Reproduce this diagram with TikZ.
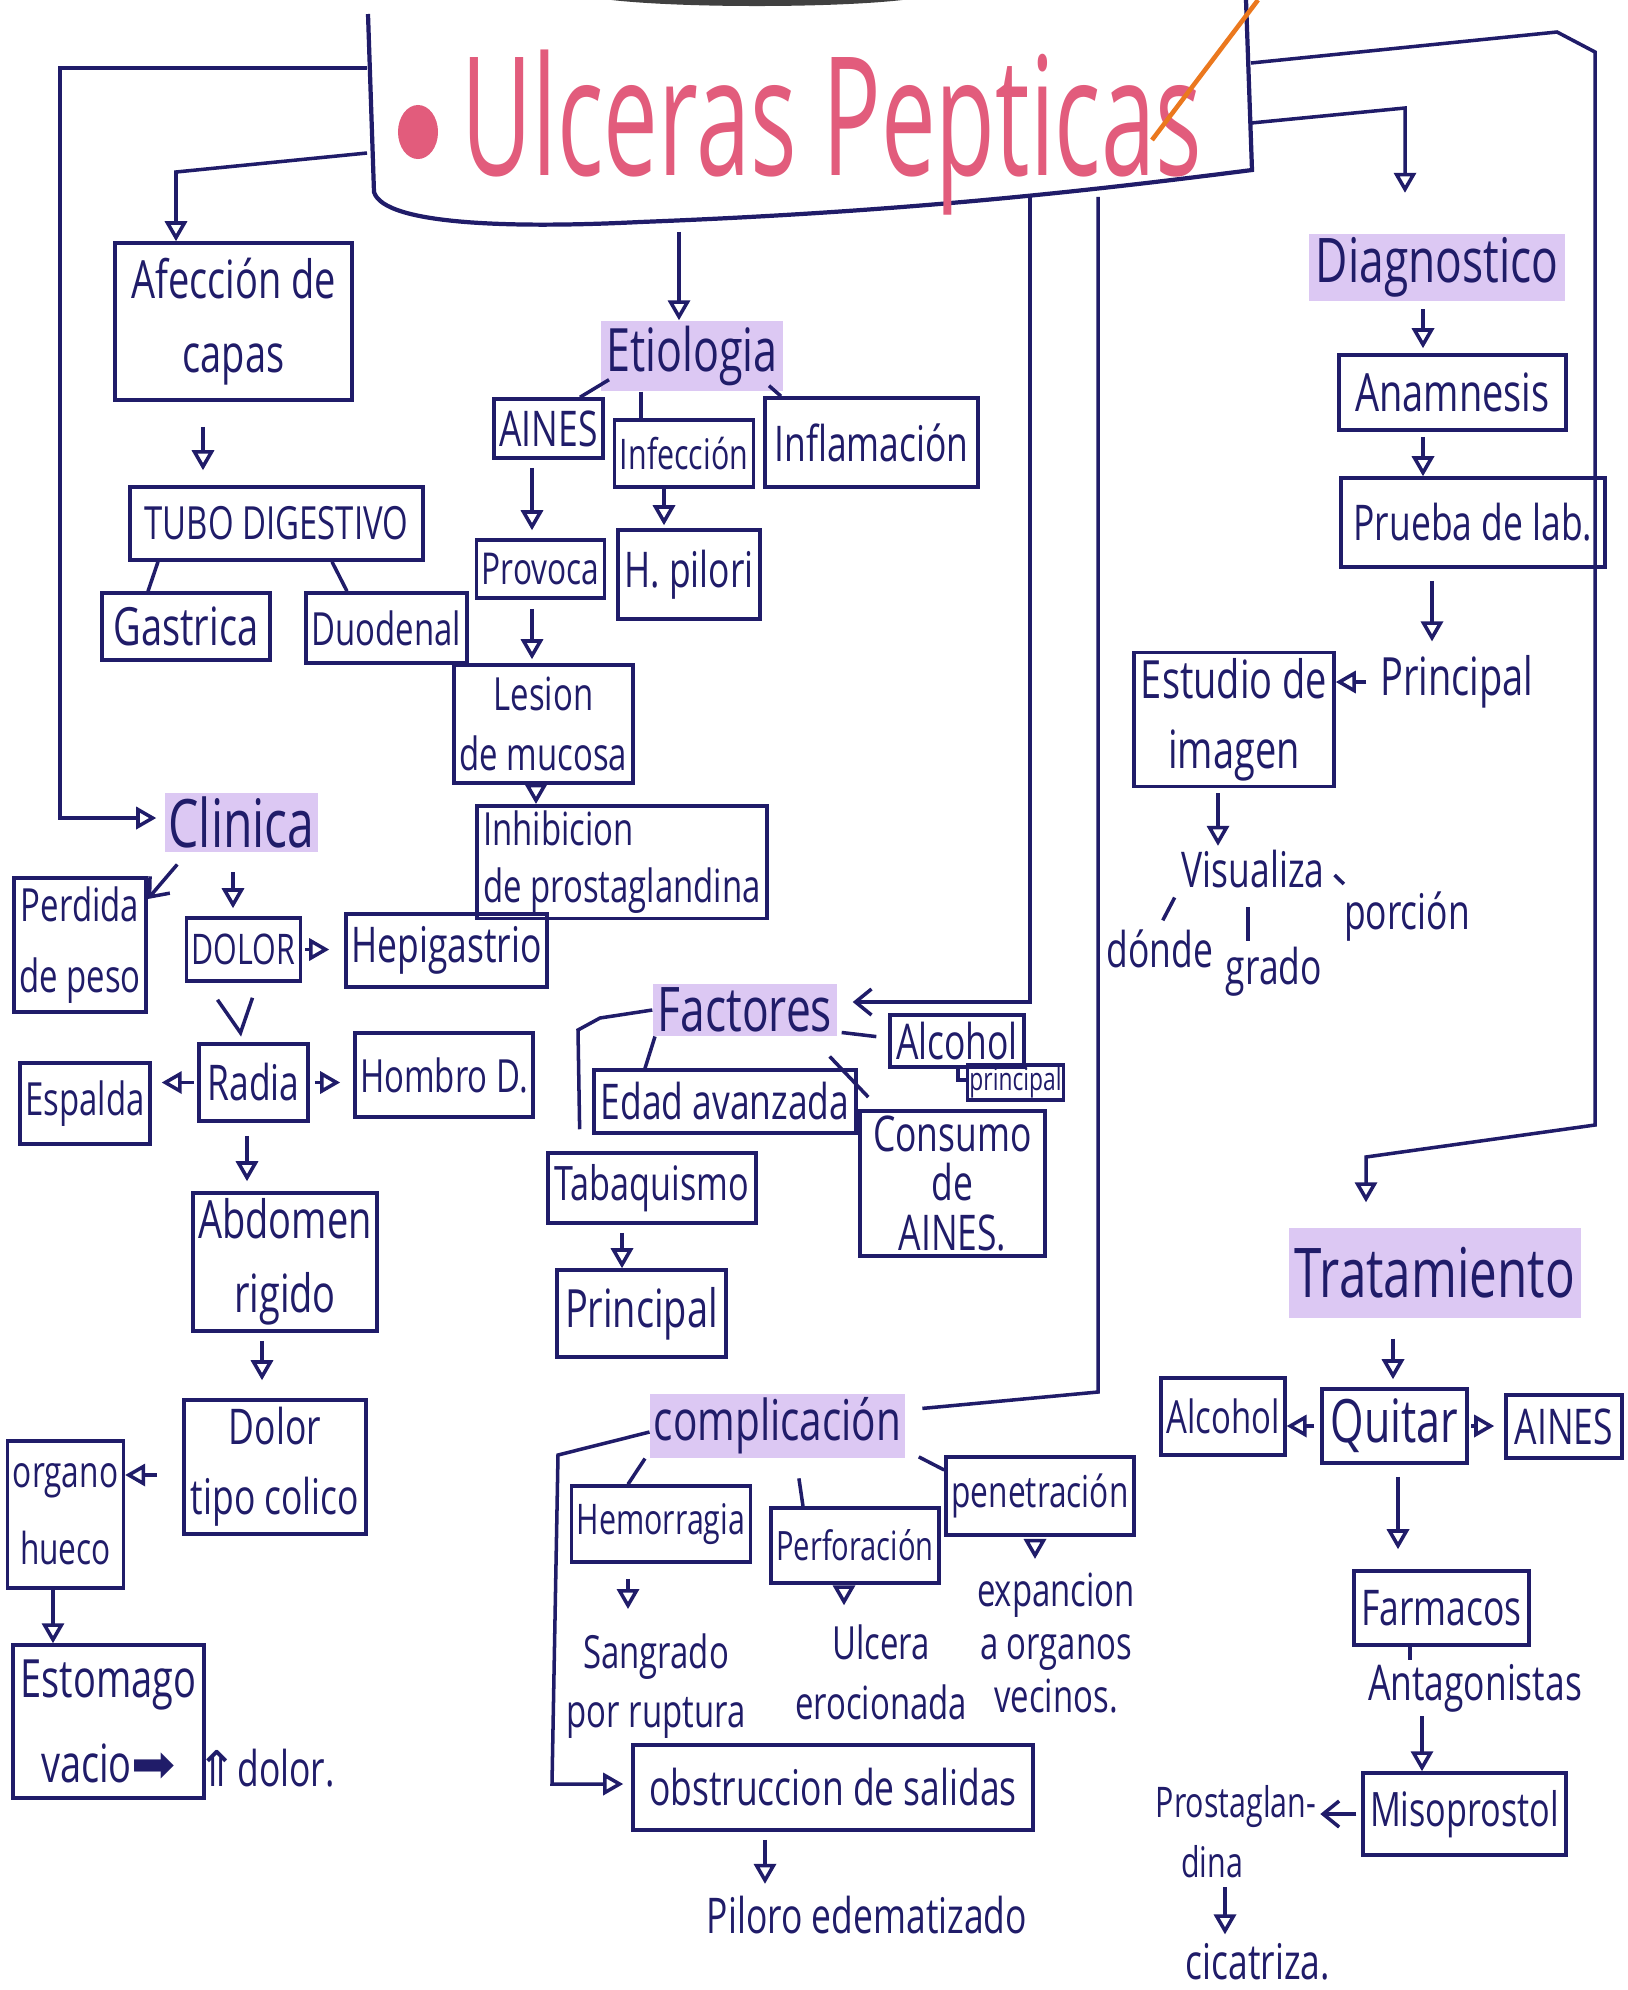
\documentclass[tikz,border=0pt]{standalone}
\usepackage{fontspec}
\setmainfont{Open Sans}[FakeStretch=0.72]
\newfontfamily\titlefont{Open Sans}[FakeStretch=0.59]
\newfontfamily\symfont{DejaVu Sans}
\usetikzlibrary{arrows.meta,calc}
\definecolor{ink}{RGB}{32,28,105}
\definecolor{hlc}{RGB}{220,200,243}
\definecolor{pinkc}{RGB}{226,92,124}
\definecolor{orangec}{RGB}{235,120,30}
\tikzset{
  f/.style 2 args={font=\fontsize{#1}{#2}\selectfont},
  box/.style={draw=ink, line width=1pt, inner sep=1.5pt, align=center, text=ink, f={14}{19}},
  lbl/.style={inner sep=1pt, align=center, text=ink, f={14}{19}},
  hl/.style={fill=hlc, inner sep=1pt, align=center, text=ink, f={17}{20}},
  arr/.style={draw=ink, line width=1pt, -{Triangle[open, length=2mm, width=2.2mm]}},
  arrV/.style={draw=ink, line width=1pt, -{Straight Barb[length=1.6mm, width=2.6mm]}},
  ln/.style={draw=ink, line width=1pt},
}
\newcommand{\mybox}[7][]{%
  \node[box,minimum width={(#5-#3)*0.01cm},minimum height={(#6-#4)*0.01cm},#1] (#2) at ({(#3+#5)/2},{(#4+#6)/2}) {#7};}
\newcommand{\myhl}[7][]{%
  \node[hl,minimum width={(#5-#3)*0.01cm},minimum height={(#6-#4)*0.01cm},#1] (#2) at ({(#3+#5)/2},{(#4+#6)/2}) {#7};}
\begin{document}
\begin{tikzpicture}[x=0.01cm,y=-0.01cm]
\fill[white] (0,0) rectangle (1628,1990);
\useasboundingbox (0,0) rectangle (1628,1990);
\begin{scope}
\clip (0,0) rectangle (1628,1990);
\fill[black!75] (757,-8) ellipse [x radius=1.77cm, y radius=0.14cm];
\end{scope}

% ---------- title ----------
\node[minimum width=8.82cm, minimum height=1.96cm, inner sep=0pt] (tbox) at (809,98) {};
\draw[ln, line width=1.2pt] (368,14) -- (374,192) .. controls (384,226) and (520,228) .. (640,222) .. controls (900,212) and (1080,192) .. (1252,170) -- (1246,0);
\fill[pinkc] (418,132) ellipse [x radius=0.2cm, y radius=0.27cm];
\node[font=\titlefont\fontsize{47}{47}\selectfont, text=pinkc, anchor=base, inner sep=0pt] (title) at (832,175) {Ulceras Pepticas};
\draw[orangec, line width=1.3pt] (1258,0) -- (1152,140);

% ---------- left branch ----------
\mybox[f={15}{21}]{afec}{115}{243}{352}{400}{Afección de\\capas}
\mybox[f={13}{16}]{tubo}{130}{487}{423}{560}{TUBO DIGESTIVO}
\mybox[f={15}{18}]{gast}{102}{593}{270}{660}{Gastrica}
\mybox[f={13}{16}]{duod}{306}{593}{467}{663}{Duodenal}

% ---------- etiologia ----------
\myhl{etio}{601}{321}{783}{391}{Etiologia}
\mybox{ainesA}{494}{399}{603}{458}{AINES}
\mybox[f={12}{15}]{infec}{616}{420}{752}{487}{Infección}
\mybox{infla}{765}{398}{978}{487}{Inflamación}
\mybox[f={12.5}{15}]{provoca}{478}{540}{603}{598}{Provoca}
\mybox{hpil}{618}{530}{760}{619}{H. pilori}
\mybox[f={13}{17}]{lesion}{454}{665}{633}{783}{Lesion\\de mucosa}
\mybox[f={13}{16}, align=left]{inhib}{477}{814}{767}{910}{Inhibicion\\de prostaglandina}

% ---------- clinica ----------
\myhl[f={19}{22}]{clinica}{165}{800}{318}{845}{Clinica}
\mybox[f={13}{20}]{perdida}{15}{878}{145}{1012}{Perdida\\de peso}
\mybox[f={12}{15}]{dolor}{189}{918}{298}{981}{DOLOR}
\mybox{hepi}{346}{914}{547}{987}{Hepigastrio}
\mybox{radia}{199}{1044}{308}{1121}{Radia}
\mybox[f={13}{16}]{hombro}{356}{1033}{532}{1117}{Hombro D.}
\mybox[f={13}{16}]{espalda}{21}{1063}{149}{1144}{Espalda}
\mybox[f={15}{21}]{abdomen}{195}{1193}{375}{1331}{Abdomen\\rigido}
\mybox[f={14}{20}]{dtipo}{184}{1400}{366}{1534}{Dolor\\tipo colico}
\mybox[f={12.5}{22}]{organo}{10}{1441}{121}{1588}{organo\\hueco}
\mybox[f={15}{24}]{estom}{13}{1645}{204}{1798}{Estomago\\vacio{\symfont ➡}}
\node[lbl, anchor=west] (dolorup) at (192,1768) {{\symfont ⇑}dolor.};

% ---------- factores ----------
\myhl[f={17.5}{20}]{factores}{653}{985}{837}{1035}{Factores}
\mybox{alcA}{890}{1015}{1024}{1067}{Alcohol}
\mybox[f={9}{10}, inner sep=0.5pt]{princA}{968}{1065}{1063}{1100}{principal}
\mybox{edad}{594}{1070}{856}{1133}{Edad avanzada}
\mybox[f={14}{14}]{consumo}{860}{1112}{1045}{1255}{Consumo\\de\\AINES.}
\mybox[f={13.5}{16}]{tabaq}{548}{1153}{756}{1223}{Tabaquismo}
\mybox[f={15}{18}]{princB}{557}{1270}{726}{1357}{Principal}

% ---------- complicacion ----------
\myhl[f={16}{19}]{complic}{653}{1397}{902}{1455}{complicación}
\mybox[f={12}{15}]{hemo}{573}{1486}{749}{1562}{Hemorragia}
\mybox[f={11.5}{14}]{perfo}{771}{1508}{939}{1583}{Perforación}
\mybox[f={12.5}{15}]{pene}{946}{1457}{1134}{1535}{penetración}
\node[lbl, f={13}{17}] (sangr) at (656,1686) {Sangrado\\por ruptura};
\node[lbl, f={13}{17}] (ulcer) at (881,1672) {Ulcera\\erocionada};
\node[lbl, f={13}{15}] (expan) at (1056,1643) {expancion\\a organos\\vecinos.};
\mybox{obstr}{633}{1745}{1033}{1830}{obstruccion de salidas}
\node[lbl] (piloro) at (867,1915) {Piloro edematizado};

% ---------- diagnostico ----------
\myhl[f={17.5}{20}]{diag}{1309}{240}{1565}{294}{Diagnostico}
\mybox[f={15}{18}]{anam}{1339}{355}{1566}{430}{Anamnesis}
\mybox[f={14}{17}]{prueba}{1341}{478}{1605}{567}{Prueba de lab.}
\node[lbl, f={15}{18}] (princC) at (1457,682) {Principal};
\mybox[f={15}{20}]{estudio}{1134}{653}{1334}{786}{Estudio de\\imagen}
\node[lbl] (visual) at (1253,869) {Visualiza};
\node[lbl] (donde) at (1160,949) {dónde};
\node[lbl] (grado) at (1274,972) {grado};
\node[lbl] (porcion) at (1407,917) {porción};

% ---------- tratamiento ----------
\myhl[f={19.5}{22}]{trat}{1289}{1228}{1581}{1318}{Tratamiento}
\mybox[f={17}{20}]{quitar}{1322}{1389}{1467}{1463}{Quitar}
\mybox[f={13}{16}]{alcB}{1162}{1378}{1284}{1455}{Alcohol}
\mybox{ainesB}{1506}{1395}{1622}{1458}{AINES}
\mybox{farm}{1354}{1571}{1529}{1645}{Farmacos}
\node[lbl] (antag) at (1475,1688) {Antagonistas};
\mybox[f={13.5}{16}]{miso}{1363}{1773}{1566}{1855}{Misoprostol}
\node[lbl, f={12}{17}, align=left] (prosta) at (1236,1832) {Prostaglan-\\\hspace{0.6em}dina};
\node[lbl] (cicat) at (1258,1962) {cicatriza.};

% ---------- connectors from title ----------
\draw[arr, shorten >=0.08cm] (tbox.west |- 0,68) -- (60,68) -- (60,818) -- (clinica.west |- 0,818);
\draw[arr] (tbox.west |- 0,153) -- (176,172) -- (afec.north -| 176,0);
\draw[arr, shorten <=0.35cm] (tbox.south -| 679,0) -- (etio.north -| 679,0);
\draw[arrV, shorten >=0.15cm] (tbox.south -| 1030,0) -- (1030,1002) -- (factores.east |- 0,1002);
\draw[ln, shorten >=0.17cm] (tbox.south -| 1098,0) -- (1098,1392) -- (complic.east |- 0,1410);
\draw[arr, shorten >=0.25cm] (tbox.east |- 0,63) -- (1557,32) -- (1595,52) -- (1595,1125) -- (1366,1157) -- (trat.north -| 1366,0);
\draw[arr, shorten >=0.4cm] (tbox.east |- 0,123) -- (1405,108) -- (diag.north -| 1405,0);

% ---------- left branch ----------
\draw[arr, shorten <=0.25cm, shorten >=0.15cm] (afec.south -| 203,0) -- (tubo.north -| 203,0);
\draw[ln] (tubo.south -| 158,0) -- (gast.north -| 148,0);
\draw[ln] (tubo.south -| 332,0) -- (duod.north -| 347,0);

% ---------- etiologia ----------
\draw[ln] ($(etio.south -| 609,0)+(0,-12)$) -- (ainesA.north -| 580,0);
\draw[ln] (etio.south -| 641,0) -- (infec.north -| 641,0);
\draw[ln] ($(etio.south -| 769,0)+(0,-6)$) -- (infla.north -| 781,0);
\draw[arr, shorten <=0.08cm, shorten >=0.08cm] (ainesA.south -| 532,0) -- (provoca.north -| 532,0);
\draw[arr, shorten >=0.03cm] (infec.south -| 664,0) -- (hpil.north -| 664,0);
\draw[arr, shorten <=0.09cm, shorten >=0.04cm] (provoca.south -| 532,0) -- (lesion.north -| 532,0);
\draw[arr] (lesion.south -| 536,0) -- (inhib.north -| 536,0);

% ---------- clinica ----------
\draw[arrV] ($(clinica.south west)+(13,12)$) -- (perdida.east |- 0,899);
\draw[arr, shorten <=0.2cm, shorten >=0.08cm] (clinica.south -| 233,0) -- (dolor.north -| 233,0);
\draw[arr, shorten <=0.03cm, shorten >=0.15cm] (dolor.east) -- (hepi.west |- dolor.east);
\draw[ln] ($(dolor.south)+(-26,17)$) -- ($(dolor.south)+(-3,50)$) -- ($(dolor.south)+(9,15)$);
\draw[arr, shorten <=0.05cm, shorten >=0.13cm] (radia.east) -- (hombro.west |- radia.east);
\draw[arr, shorten <=0.03cm, shorten >=0.1cm] (radia.west) -- (espalda.east |- radia.west);
\draw[arr, shorten <=0.13cm, shorten >=0.1cm] (radia.south -| 247,0) -- (abdomen.north -| 247,0);
\draw[arr, shorten <=0.08cm, shorten >=0.18cm] (abdomen.south -| 262,0) -- (dtipo.north -| 262,0);
\draw[arr, shorten <=0.25cm] (dtipo.west |- 0,1475) -- (organo.east |- 0,1475);
\draw[arr] (organo.south -| 53,0) -- (estom.north -| 53,0);

% ---------- factores ----------
\draw[ln, shorten <=0.04cm, shorten >=0.12cm] (factores.east |- 0,1032) -- (alcA.west |- 0,1038);
\draw[ln] (alcA.south -| 958,0) -- (958,1080) -- (princA.west |- 0,1080);
\draw[ln] (factores.south -| 655,0) -- (edad.north -| 645,0);
\draw[ln] ($(factores.south east)+(-8,20)$) -- ($(consumo.north west)+(10,-12)$);
\draw[ln, shorten >=0.22cm] (factores.west |- 0,1010) -- (600,1018) -- (578,1030) -- (tabaq.north -| 580,0);
\draw[arr, shorten <=0.08cm] (tabaq.south -| 622,0) -- (princB.north -| 622,0);

% ---------- complicacion ----------
\draw[ln] (complic.south -| 645,0) -- (hemo.north -| 628,0);
\draw[ln, shorten <=0.2cm] (complic.south -| 796,0) -- (perfo.north -| 803,0);
\draw[ln, shorten <=0.15cm] (complic.east |- 0,1450) -- (pene.west |- 0,1470);
\draw[arr, shorten <=0.15cm, shorten >=0.2cm] (hemo.south -| 628,0) -- (sangr.north -| 628,0);
\draw[arr, shorten <=0.04cm, shorten >=0.15cm] (perfo.south -| 844,0) -- (ulcer.north -| 844,0);
\draw[arr, shorten <=0.05cm, shorten >=0.1cm] (pene.south -| 1035,0) -- (expan.north -| 1035,0);
\draw[arr, shorten >=0.08cm] (complic.west |- 0,1432) -- (558,1455) -- (552,1784) -- (obstr.west |- 0,1784);
\draw[arr, shorten <=0.08cm, shorten >=0.08cm] (obstr.south -| 765,0) -- (piloro.north -| 765,0);

% ---------- diagnostico ----------
\draw[arr, shorten <=0.08cm, shorten >=0.05cm] (diag.south -| 1423,0) -- (anam.north -| 1423,0);
\draw[arr, shorten <=0.05cm] (anam.south -| 1423,0) -- (prueba.north -| 1423,0);
\draw[arr, shorten <=0.12cm, shorten >=0.1cm] (prueba.south -| 1432,0) -- (princC.north -| 1432,0);
\draw[arr, shorten <=0.1cm] (princC.west) -- (estudio.east |- princC.west);
\draw[arr, shorten <=0.05cm] (estudio.south -| 1218,0) -- (visual.north -| 1218,0);
\draw[ln, shorten <=0.06cm, shorten >=0.06cm] (visual.south west) -- (donde.north);
\draw[ln, shorten <=0.15cm, shorten >=0.02cm] (visual.south -| 1248,0) -- (grado.north -| 1248,0);
\draw[ln] ($(visual.east)+(6,6)$) -- ($(porcion.north west)+(4,-4)$);

% ---------- tratamiento ----------
\draw[arr, shorten <=0.2cm, shorten >=0.08cm] (trat.south -| 1393,0) -- (quitar.north -| 1393,0);
\draw[arr, shorten <=0.06cm] (quitar.west) -- (alcB.east |- quitar.west);
\draw[arr, shorten <=0.02cm, shorten >=0.1cm] (quitar.east) -- (ainesB.west |- quitar.east);
\draw[arr, shorten <=0.12cm, shorten >=0.2cm] (quitar.south -| 1398,0) -- (farm.north -| 1398,0);
\draw[ln] (farm.south -| 1410,0) -- (antag.north -| 1410,0);
\draw[arr] (antag.south -| 1422,0) -- (miso.north -| 1422,0);
\draw[arrV, shorten <=0.05cm] (miso.west) -- (prosta.east |- miso.west);
\draw[arr, shorten <=0.05cm, shorten >=0.05cm] (prosta.south -| 1225,0) -- (cicat.north -| 1225,0);
\end{tikzpicture}
\end{document}
